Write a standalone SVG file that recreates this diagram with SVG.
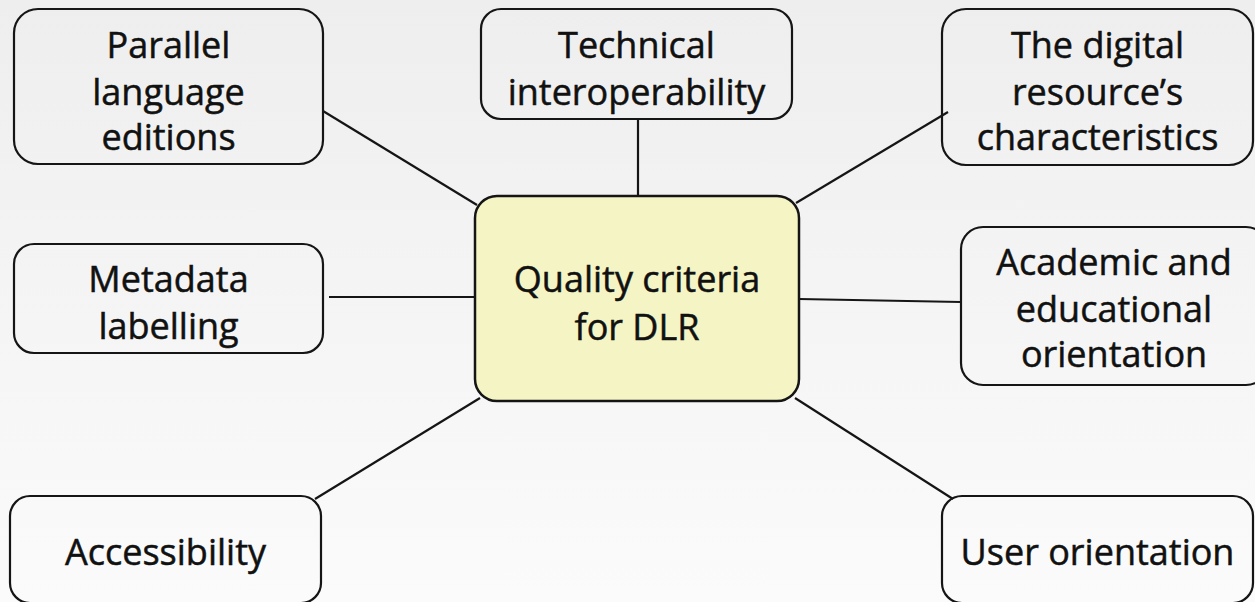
<svg xmlns="http://www.w3.org/2000/svg" width="1255" height="602" viewBox="0 0 1255 602">
<defs>
<linearGradient id="bg" x1="0" y1="0" x2="0" y2="1">
<stop offset="0" stop-color="#eeeeee"/>
<stop offset="1" stop-color="#fbfbfb"/>
</linearGradient>
</defs>
<style>
.box{fill:none;stroke:#151515;stroke-width:2.2}
.center{fill:#f4f4c4;stroke:#151515;stroke-width:2.5}
.t{font-family:"Open Sans","Liberation Sans",sans-serif;font-size:36px;fill:#111;stroke:#111;stroke-width:0.5;text-anchor:middle}
.c line{stroke:#151515;stroke-width:2.2}
</style>
<rect width="1255" height="602" fill="url(#bg)"/>
<g class="c" id="connectors">
<line x1="323" y1="111" x2="477" y2="205"/>
<line x1="638" y1="119" x2="638" y2="196"/>
<line x1="948" y1="112" x2="796" y2="203"/>
<line x1="329" y1="297" x2="475" y2="297"/>
<line x1="799" y1="299" x2="961" y2="302"/>
<line x1="315" y1="499" x2="480" y2="398"/>
<line x1="795" y1="398" x2="953" y2="499"/>
</g>
<g id="n-parallel">
<rect class="box" x="14" y="9" width="309" height="155" rx="24"/>
<text class="t" x="168.5" y="58">Parallel</text>
<text class="t" x="168.5" y="105">language</text>
<text class="t" x="168.5" y="150">editions</text>
</g>
<g id="n-technical">
<rect class="box" x="481" y="9" width="311" height="110" rx="20"/>
<text class="t" x="636.5" y="58">Technical</text>
<text class="t" x="636.5" y="105">interoperability</text>
</g>
<g id="n-digital">
<rect class="box" x="942" y="9" width="311" height="156" rx="24"/>
<text class="t" x="1097.5" y="58">The digital</text>
<text class="t" x="1097.5" y="105">resource’s</text>
<text class="t" x="1097.5" y="150">characteristics</text>
</g>
<g id="n-metadata">
<rect class="box" x="14" y="244" width="309" height="109" rx="20"/>
<text class="t" x="168.5" y="292">Metadata</text>
<text class="t" x="168.5" y="339">labelling</text>
</g>
<g id="n-center">
<rect class="center" x="475" y="196" width="324" height="205" rx="22"/>
<text class="t" x="637" y="292">Quality criteria</text>
<text class="t" x="637" y="340">for DLR</text>
</g>
<g id="n-academic">
<rect class="box" x="961" y="227" width="307" height="158" rx="22"/>
<text class="t" x="1114" y="275">Academic and</text>
<text class="t" x="1114" y="322">educational</text>
<text class="t" x="1114" y="367">orientation</text>
</g>
<g id="n-accessibility">
<rect class="box" x="10" y="496" width="311" height="107" rx="20"/>
<text class="t" x="165.5" y="565">Accessibility</text>
</g>
<g id="n-user">
<rect class="box" x="942" y="496" width="311" height="107" rx="20"/>
<text class="t" x="1097.5" y="565">User orientation</text>
</g>
</svg>
